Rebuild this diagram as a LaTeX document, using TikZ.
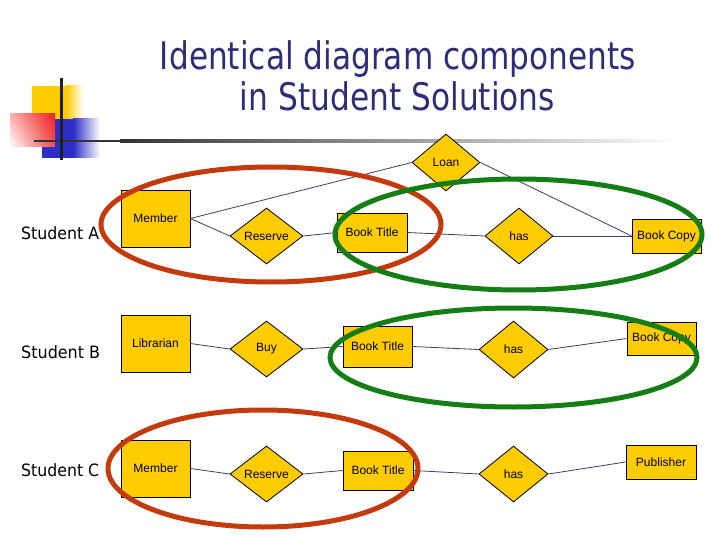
\documentclass[tikz,border=0pt]{standalone}
\usepackage{fontspec}
\setmainfont{Liberation Sans}
\newfontfamily\tahomalike{DejaVu Sans}
\usetikzlibrary{shapes.geometric,shadings}
\definecolor{erfill}{RGB}{255,204,0}
\definecolor{lnk}{RGB}{60,60,100}
\definecolor{ttl}{RGB}{45,45,120}
\definecolor{ovred}{RGB}{195,58,12}
\definecolor{ovgreen}{RGB}{20,125,20}
\definecolor{logoblue}{RGB}{45,45,200}
\definecolor{logored}{RGB}{240,30,30}
\begin{document}
\begin{tikzpicture}[x=1pt,y=-1pt,
  entity/.style={draw=black,line width=0.8pt,fill=erfill,inner sep=0pt,font=\fontsize{12}{14}\selectfont},
  rel/.style={diamond,shape aspect=1.3,draw=black,line width=0.8pt,fill=erfill,inner sep=0pt,
              minimum width=69pt,minimum height=56pt,font=\fontsize{12}{14}\selectfont},
  link/.style={draw=lnk,line width=0.8pt},
  oval/.style={line width=5pt},
  titletext/.style={anchor=base,inner sep=0pt,text=ttl,font=\tahomalike\fontsize{38}{44}\selectfont},
  stud/.style={anchor=base west,inner sep=0pt,text=black,font=\tahomalike\fontsize{17}{20}\selectfont}]
\useasboundingbox (0,0) rectangle (720,540);
\fill[white] (0,0) rectangle (720,540);

% logo
\fill[erfill] (32,86) rectangle (66,119);
\shade[left color=erfill,right color=white] (66,86) rectangle (83,119);
\fill[logoblue] (42,119) rectangle (73,158);
\shade[left color=logoblue,right color=white] (73,119) rectangle (100,158);
\shade[upper right=logored,lower right=logored!80,upper left=logored!35,lower left=white] (10,114) rectangle (55,147);
\fill[black!80] (34,140) rectangle (120,142.5);
\shade[left color=black!80,right color=white] (120,140) rectangle (680,142.5);
\draw[line width=3pt,black!88] (61,78) -- (61,160);

% title
\node[titletext] (t1) at (398,70) {\resizebox{476pt}{\height}{Identical diagram components}};
\node[titletext] (t2) at (397.5,111) {\resizebox{315pt}{\height}{in Student Solutions}};

% student labels
\node[stud] (sA) at (21,239.3) {\resizebox{78pt}{\height}{Student A}};
\node[stud] (sB) at (21,358.3) {\resizebox{79pt}{\height}{Student B}};
\node[stud] (sC) at (21,476.7) {\resizebox{78pt}{\height}{Student C}};

% row A
\node[rel,minimum width=68pt,minimum height=57pt] (loan) at (446,162.5) {Loan};
\node[entity,minimum width=69pt,minimum height=57pt] (memA) at (155.5,218.5) {Member};
\node[rel,minimum width=73pt] (resA) at (266.5,236) {Reserve};
\node[entity,minimum width=70pt,minimum height=39pt] (btA) at (372,232.5) {Book Title};
\node[rel,minimum width=68pt] (hasA) at (519,236) {has};
\node[entity,minimum width=69pt,minimum height=34pt] (bcA) at (666.5,236) {Book Copy};

% row B
\node[entity,minimum width=69pt,minimum height=57pt] (lib) at (155.5,343.5) {Librarian};
\node[rel,minimum width=73pt] (buy) at (266.5,349) {Buy};
\node[entity,minimum width=69pt,minimum height=41pt] (btB) at (377.5,346.5) {Book Title};
\node[rel,minimum width=69pt,minimum height=57pt] (hasB) at (513.5,349.5) {has};
\node[entity,minimum width=69pt,minimum height=33pt] (bcB) at (661.5,338.5) {Book Copy};

% row C
\node[entity,minimum width=69pt,minimum height=57pt] (memC) at (155.5,468.5) {Member};
\node[rel,minimum width=73pt] (resC) at (266.5,474) {Reserve};
\node[entity,minimum width=70pt,minimum height=39pt] (btC) at (378,470.5) {Book Title};
\node[rel,minimum width=69pt] (hasC) at (513.5,474) {has};
\node[entity,minimum width=70pt,minimum height=34pt] (pub) at (661,462) {Publisher};

% connectors
\draw[link] (memA.east) -- (loan.west);
\draw[link] (memA.east) -- (resA.west);
\draw[link] (resA.east) -- (btA.west);
\draw[link] (btA.east) -- (hasA.west);
\draw[link] (hasA.east) -- (bcA.west);
\draw[link] (loan.east) -- (bcA.west);

\draw[link] (lib.east) -- (buy.west);
\draw[link] (buy.east) -- (btB.west);
\draw[link] (btB.east) -- (hasB.west);
\draw[link] (hasB.east) -- (bcB.west);

\draw[link] (memC.east) -- (resC.west);
\draw[link] (resC.east) -- (btC.west);
\draw[link] (btC.east) -- (hasC.west);
\draw[link] (hasC.east) -- (pub.west);

% highlight ovals
\draw[oval,ovred] (271,224.5) ellipse [x radius=170pt,y radius=57.5pt];
\draw[oval,ovgreen] (518.5,234.5) ellipse [x radius=183.5pt,y radius=55.5pt];
\draw[oval,ovgreen] (513.5,357.5) ellipse [x radius=183.5pt,y radius=49.5pt];
\draw[oval,ovred] (263,468.5) ellipse [x radius=155pt,y radius=58.5pt];
\end{tikzpicture}
\end{document}
